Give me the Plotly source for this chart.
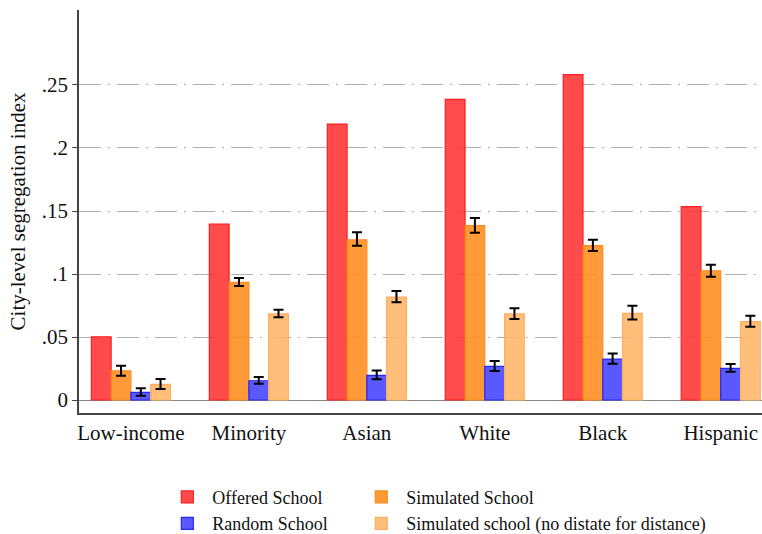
import plotly.graph_objects as go

categories = ["Low-income", "Minority", "Asian", "White", "Black", "Hispanic"]

series_names = ["Offered School", "Simulated School", "Random School",
                "Simulated school (no distate for distance)"]

offered = [0.0502, 0.1397, 0.2190, 0.2386, 0.2582, 0.1534]

simulated = [0.0232, 0.0934, 0.1272, 0.1384, 0.1225, 0.1026]
simulated_hi = [0.0272, 0.0968, 0.1331, 0.1444, 0.1272, 0.1074]
simulated_lo = [0.0193, 0.0905, 0.1225, 0.1328, 0.1183, 0.0979]

random_school = [0.0061, 0.0153, 0.0196, 0.0267, 0.0325, 0.0251]
random_hi = [0.0093, 0.0183, 0.0235, 0.0310, 0.0370, 0.0286]
random_lo = [0.0034, 0.0130, 0.0164, 0.0230, 0.0288, 0.0225]

nodist = [0.0124, 0.0683, 0.0817, 0.0683, 0.0688, 0.0622]
nodist_hi = [0.0167, 0.0717, 0.0865, 0.0728, 0.0749, 0.0669]
nodist_lo = [0.0087, 0.0656, 0.0775, 0.0643, 0.0638, 0.0582]

y_tickvals = [0, 0.05, 0.1, 0.15, 0.2, 0.25]
y_ticktext = ["0", ".05", ".1", ".15", ".2", ".25"]

FONT = "Liberation Serif"

fills = ["rgba(255,50,50,0.88)", "rgba(255,140,30,0.88)",
         "rgba(60,60,255,0.85)", "rgba(255,180,100,0.85)"]
lines = ["rgb(255,30,30)", "rgb(255,140,30)", "rgb(40,40,240)", "rgb(255,175,95)"]
legend_ids = ["legend", "legend2", "legend", "legend2"]


def err(vals, hi, lo):
    if hi is None:
        return None
    return dict(type="data", symmetric=False,
                array=[h - v for h, v in zip(hi, vals)],
                arrayminus=[v - l for v, l in zip(vals, lo)],
                color="black", thickness=2, width=5)


data = [
    (offered, None, None),
    (simulated, simulated_hi, simulated_lo),
    (random_school, random_hi, random_lo),
    (nodist, nodist_hi, nodist_lo),
]

fig = go.Figure()
for i, (vals, hi, lo) in enumerate(data):
    fig.add_trace(go.Bar(
        x=categories, y=vals, name=series_names[i],
        marker=dict(color=fills[i], line=dict(color=lines[i], width=1.2)),
        error_y=err(vals, hi, lo),
        legend=legend_ids[i],
    ))

leg_common = dict(orientation="v", yanchor="top", xanchor="left",
                  font=dict(family=FONT, size=18, color="#111"),
                  itemwidth=40, bgcolor="rgba(0,0,0,0)")

fig.update_layout(
    width=762, height=534,
    margin=dict(l=79, r=0, t=10, b=121, autoexpand=False),
    paper_bgcolor="white", plot_bgcolor="white",
    barmode="group", bargap=0.33, bargroupgap=0,
    font=dict(family=FONT, size=17, color="#111"),
    showlegend=True,
    legend=dict(x=0.122, y=-0.163, **leg_common),
    legend2=dict(x=0.406, y=-0.163, **leg_common),
)

fig.update_xaxes(
    type="category", range=[-0.44, 5.35],
    showline=True, linecolor="#444", linewidth=1.5,
    showgrid=False, ticks="", zeroline=False,
    tickfont=dict(family=FONT, size=21, color="#111"),
)

fig.update_yaxes(
    range=[-0.0103, 0.3095],
    tickvals=y_tickvals, ticktext=y_ticktext,
    showline=True, linecolor="#444", linewidth=1.5,
    ticks="outside", ticklen=5, tickcolor="#444",
    showgrid=True, gridcolor="#b0b0b0", gridwidth=1,
    griddash="22px,7px,2px,7px",
    zeroline=True, zerolinecolor="#888", zerolinewidth=1,
    tickfont=dict(family=FONT, size=21, color="#111"),
    title=dict(text="City-level segregation index",
               font=dict(family=FONT, size=21, color="#111"), standoff=10),
)

fig.write_html("out.html")
